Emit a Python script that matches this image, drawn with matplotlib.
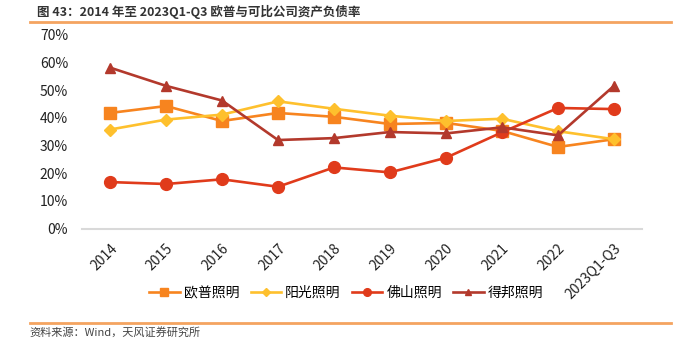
import matplotlib.pyplot as plt
from matplotlib.lines import Line2D

plt.rcParams['font.family'] = ['Noto Sans CJK SC', 'DejaVu Sans']

# 数据（从图上读取，单位 %）
years = ['2014', '2015', '2016', '2017', '2018', '2019', '2020', '2021', '2022', '2023Q1-Q3']
opple = [41.8, 44.3, 38.9, 41.8, 40.4, 37.8, 38.2, 35.3, 29.5, 32.3]
yangguang = [35.8, 39.4, 41.2, 46.0, 43.3, 40.8, 38.9, 39.7, 35.2, 32.3]
foshan = [16.8, 16.1, 17.8, 15.1, 22.1, 20.3, 25.6, 34.8, 43.6, 43.2]
debang = [58.2, 51.6, 46.3, 32.0, 32.7, 34.9, 34.4, 36.6, 33.7, 51.6]

names = ['欧普照明', '阳光照明', '佛山照明', '得邦照明']
colors = ['#F7841F', '#FEC02D', '#E03B1B', '#B3392C']
markers = ['s', 'D', 'o', '^']
msizes = [8.5, 6.5, 8.5, 7.5]
series = [opple, yangguang, foshan, debang]

fig = plt.figure(figsize=(6.79, 3.56), dpi=100)
ax = fig.add_axes([0.1208, 0.3581, 0.8247, 0.5436])

x = list(range(len(years)))
for vals, c, m, ms, n in zip(series, colors, markers, msizes, names):
    ax.plot(x, vals, color=c, marker=m, markersize=ms, linewidth=1.9, label=n)

ax.set_xlim(-0.5, 9.5)
ax.set_ylim(0, 70)
ax.set_yticks(range(0, 71, 10))
ax.set_yticklabels([f'{v}%' for v in range(0, 71, 10)], fontsize=10, color='#222222')
ax.set_xticks(x)
ax.set_xticklabels(years, rotation=45, ha='right', rotation_mode='anchor', fontsize=10, color='#222222')
ax.tick_params(length=0)
ax.tick_params(axis='x', pad=9)
ax.tick_params(axis='y', pad=10)
for s in ['top', 'right', 'left']:
    ax.spines[s].set_visible(False)
ax.spines['bottom'].set_color('#D9D9D9')
ax.spines['bottom'].set_linewidth(1.5)

handles = [Line2D([], [], color=c, marker=m, markersize=ms * 0.65, linewidth=1.9)
           for c, m, ms in zip(colors, markers, msizes)]
fig.legend(handles, names, loc='center', bbox_to_anchor=(0.51, 0.177), ncol=4,
           frameon=False, fontsize=10, handlelength=2.2, columnspacing=0.8, handletextpad=0.3)

# 标题与来源
fig.text(0.054, 0.965, '图 43：2014 年至 2023Q1-Q3 欧普与可比公司资产负债率', fontsize=9,
         fontweight='bold', color='#333333', va='center')
fig.add_artist(Line2D([0.044, 0.988], [0.937, 0.937], color='#F4A460', linewidth=2))
fig.add_artist(Line2D([0.044, 0.988], [0.094, 0.094], color='#F4A460', linewidth=2))
fig.text(0.044, 0.067, '资料来源：Wind，天风证券研究所', fontsize=8, color='#444444', va='center')

fig.savefig('out.png', dpi=100)
